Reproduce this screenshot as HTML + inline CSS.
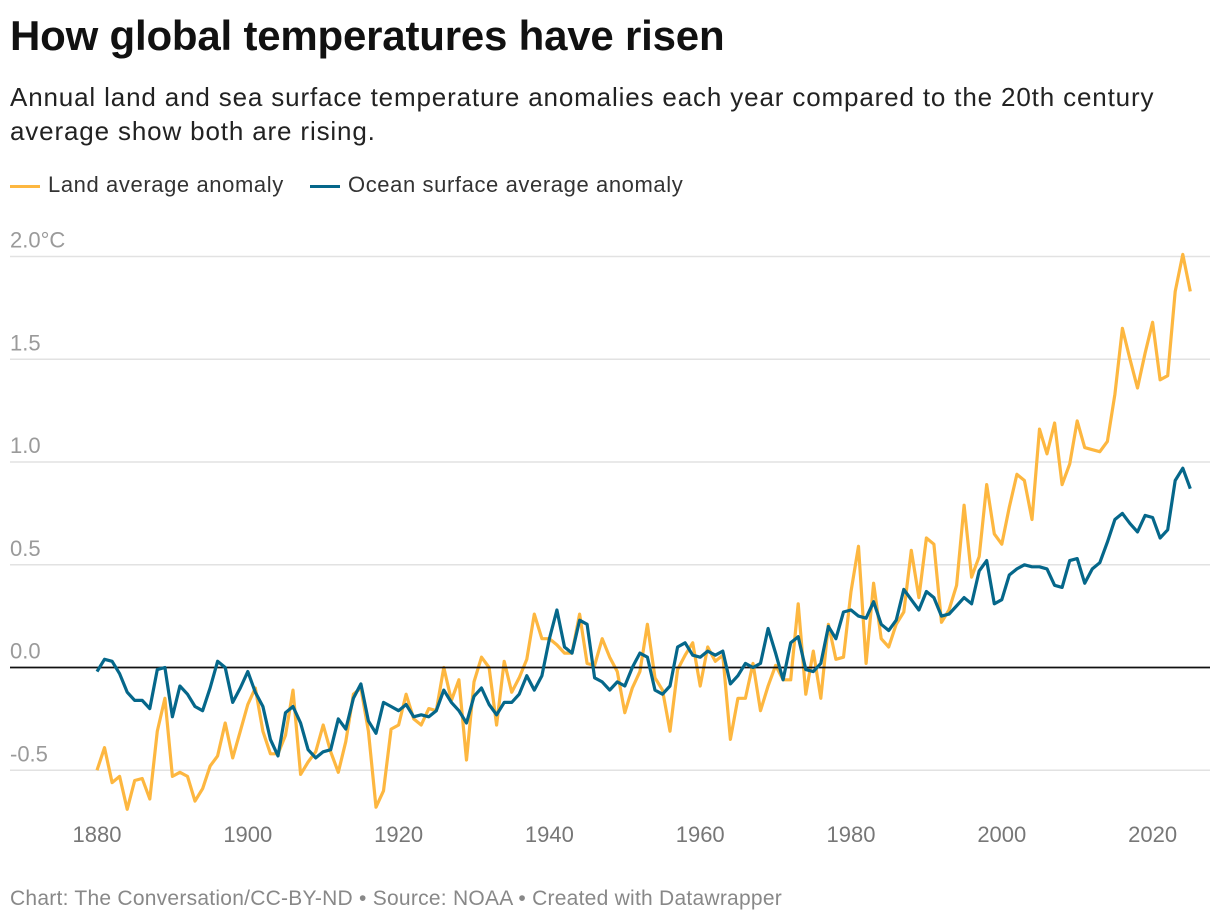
<!DOCTYPE html>
<html><head><meta charset="utf-8">
<style>
body{margin:0;background:#fff;width:1220px;height:924px;overflow:hidden;font-family:"Liberation Sans",sans-serif;}
.t{position:absolute;left:10px;top:12px;font-size:42px;font-weight:bold;color:#111;letter-spacing:-0.2px;white-space:nowrap;}
.s{position:absolute;left:10px;top:80px;font-size:26px;line-height:34px;color:#222;white-space:nowrap;letter-spacing:0.85px;}
.lg{position:absolute;top:172px;font-size:22px;color:#333;white-space:nowrap;letter-spacing:0.6px;}
.lg span{display:inline-block;width:30px;height:3px;vertical-align:middle;margin-right:8px;}
.f{position:absolute;left:10px;top:887px;font-size:21px;color:#888;white-space:nowrap;letter-spacing:0.25px;}
</style></head><body>
<div class="t">How global temperatures have risen</div>
<div class="s">Annual land and sea surface temperature anomalies each year compared to the 20th century<br>average show both are rising.</div>
<div class="lg" style="left:10px"><span style="background:#fdb740"></span>Land average anomaly</div>
<div class="lg" style="left:310px"><span style="background:#05678a"></span>Ocean surface average anomaly</div>
<svg id="c" width="1220" height="924" style="position:absolute;left:0;top:0"></svg>
<div class="f">Chart: The Conversation/CC-BY-ND • Source: NOAA • Created with Datawrapper</div>
<script>
const startYear = 1880;
const land = [-0.50,-0.39,-0.56,-0.53,-0.69,-0.55,-0.54,-0.64,-0.31,-0.15,
-0.53,-0.51,-0.53,-0.65,-0.59,-0.48,-0.43,-0.27,-0.44,-0.31,
-0.18,-0.10,-0.31,-0.42,-0.42,-0.33,-0.11,-0.52,-0.46,-0.41,
-0.28,-0.41,-0.51,-0.36,-0.13,-0.10,-0.31,-0.68,-0.60,-0.30,
-0.28,-0.13,-0.25,-0.28,-0.20,-0.21,0.00,-0.16,-0.06,-0.45,
-0.07,0.05,0.00,-0.28,0.03,-0.12,-0.05,0.04,0.26,0.14,
0.14,0.11,0.07,0.07,0.26,0.02,0.01,0.14,0.05,-0.02,
-0.22,-0.10,-0.02,0.21,-0.05,-0.11,-0.31,-0.01,0.06,0.12,
-0.09,0.10,0.03,0.06,-0.35,-0.15,-0.15,0.02,-0.21,-0.09,
0.01,-0.06,-0.06,0.31,-0.13,0.08,-0.15,0.21,0.04,0.05,
0.37,0.59,0.02,0.41,0.14,0.10,0.21,0.27,0.57,0.34,
0.63,0.60,0.22,0.28,0.40,0.79,0.44,0.54,0.89,0.65,
0.60,0.78,0.94,0.91,0.72,1.16,1.04,1.19,0.89,0.99,
1.20,1.07,1.06,1.05,1.10,1.33,1.65,1.50,1.36,1.53,
1.68,1.40,1.42,1.83,2.01,1.83];
const ocean = [-0.02,0.04,0.03,-0.03,-0.12,-0.16,-0.16,-0.20,-0.01,0.00,
-0.24,-0.09,-0.13,-0.19,-0.21,-0.10,0.03,0.00,-0.17,-0.10,
-0.02,-0.12,-0.19,-0.35,-0.43,-0.22,-0.19,-0.27,-0.40,-0.44,
-0.41,-0.40,-0.25,-0.30,-0.15,-0.08,-0.26,-0.32,-0.17,-0.19,
-0.21,-0.18,-0.24,-0.23,-0.24,-0.21,-0.11,-0.17,-0.21,-0.27,
-0.14,-0.10,-0.18,-0.23,-0.17,-0.17,-0.13,-0.04,-0.11,-0.04,
0.14,0.28,0.10,0.07,0.23,0.21,-0.05,-0.07,-0.11,-0.07,
-0.09,0.00,0.07,0.05,-0.11,-0.13,-0.09,0.10,0.12,0.06,
0.05,0.08,0.06,0.08,-0.08,-0.04,0.02,0.00,0.02,0.19,
0.07,-0.06,0.12,0.15,-0.01,-0.02,0.02,0.20,0.14,0.27,
0.28,0.25,0.24,0.32,0.21,0.18,0.23,0.38,0.33,0.28,
0.37,0.34,0.25,0.26,0.30,0.34,0.31,0.47,0.52,0.31,
0.33,0.45,0.48,0.50,0.49,0.49,0.48,0.40,0.39,0.52,
0.53,0.41,0.48,0.51,0.61,0.72,0.75,0.70,0.66,0.74,
0.73,0.63,0.67,0.91,0.97,0.87];
const yTicks = [-0.5,0,0.5,1.0,1.5,2.0];
const yTickLabels = ["-0.5","0.0","0.5","1.0","1.5","2.0°C"];
const xTicks = [1880,1900,1920,1940,1960,1980,2000,2020];

const X = yr => 97 + (yr - 1880) * 7.54;
const Y = v => 667.5 - v * 205.5;
const svg = document.getElementById('c');
const NS = 'http://www.w3.org/2000/svg';
function mk(tag, attrs){const e=document.createElementNS(NS,tag);for(const k in attrs)e.setAttribute(k,attrs[k]);svg.appendChild(e);return e;}
yTicks.forEach((v,i)=>{
  if(v!==0){
    const g = mk('line',{x1:10,x2:1210,y1:Y(v),y2:Y(v),stroke:'#e2e2e2','stroke-width':1.5});
    
    
  }
  const t = mk('text',{x:10,y:Y(v)-9,'font-size':22,fill:'#9a9a9a','font-family':'Liberation Sans, sans-serif'});
  t.textContent = yTickLabels[i];
  
  
});
xTicks.forEach(yr=>{
  const t = mk('text',{x:X(yr),y:842,'font-size':22,fill:'#777','text-anchor':'middle','font-family':'Liberation Sans, sans-serif'});
  t.textContent = yr;
  
  
});
function line(arr,color,name){
  const p = arr.map((v,i)=>(i?'L':'M')+X(startYear+i).toFixed(1)+','+Y(v).toFixed(1)).join('');
  const e = mk('path',{d:p,fill:'none',stroke:color,'stroke-width':3.2,'stroke-linejoin':'round'});
  
  
}
line(land,'#fdb740','land-anomaly-line');
const z = mk('line',{x1:10,x2:1210,y1:Y(0),y2:Y(0),stroke:'#111','stroke-width':1.8});


line(ocean,'#05678a','ocean-anomaly-line');
</script>
</body></html>
